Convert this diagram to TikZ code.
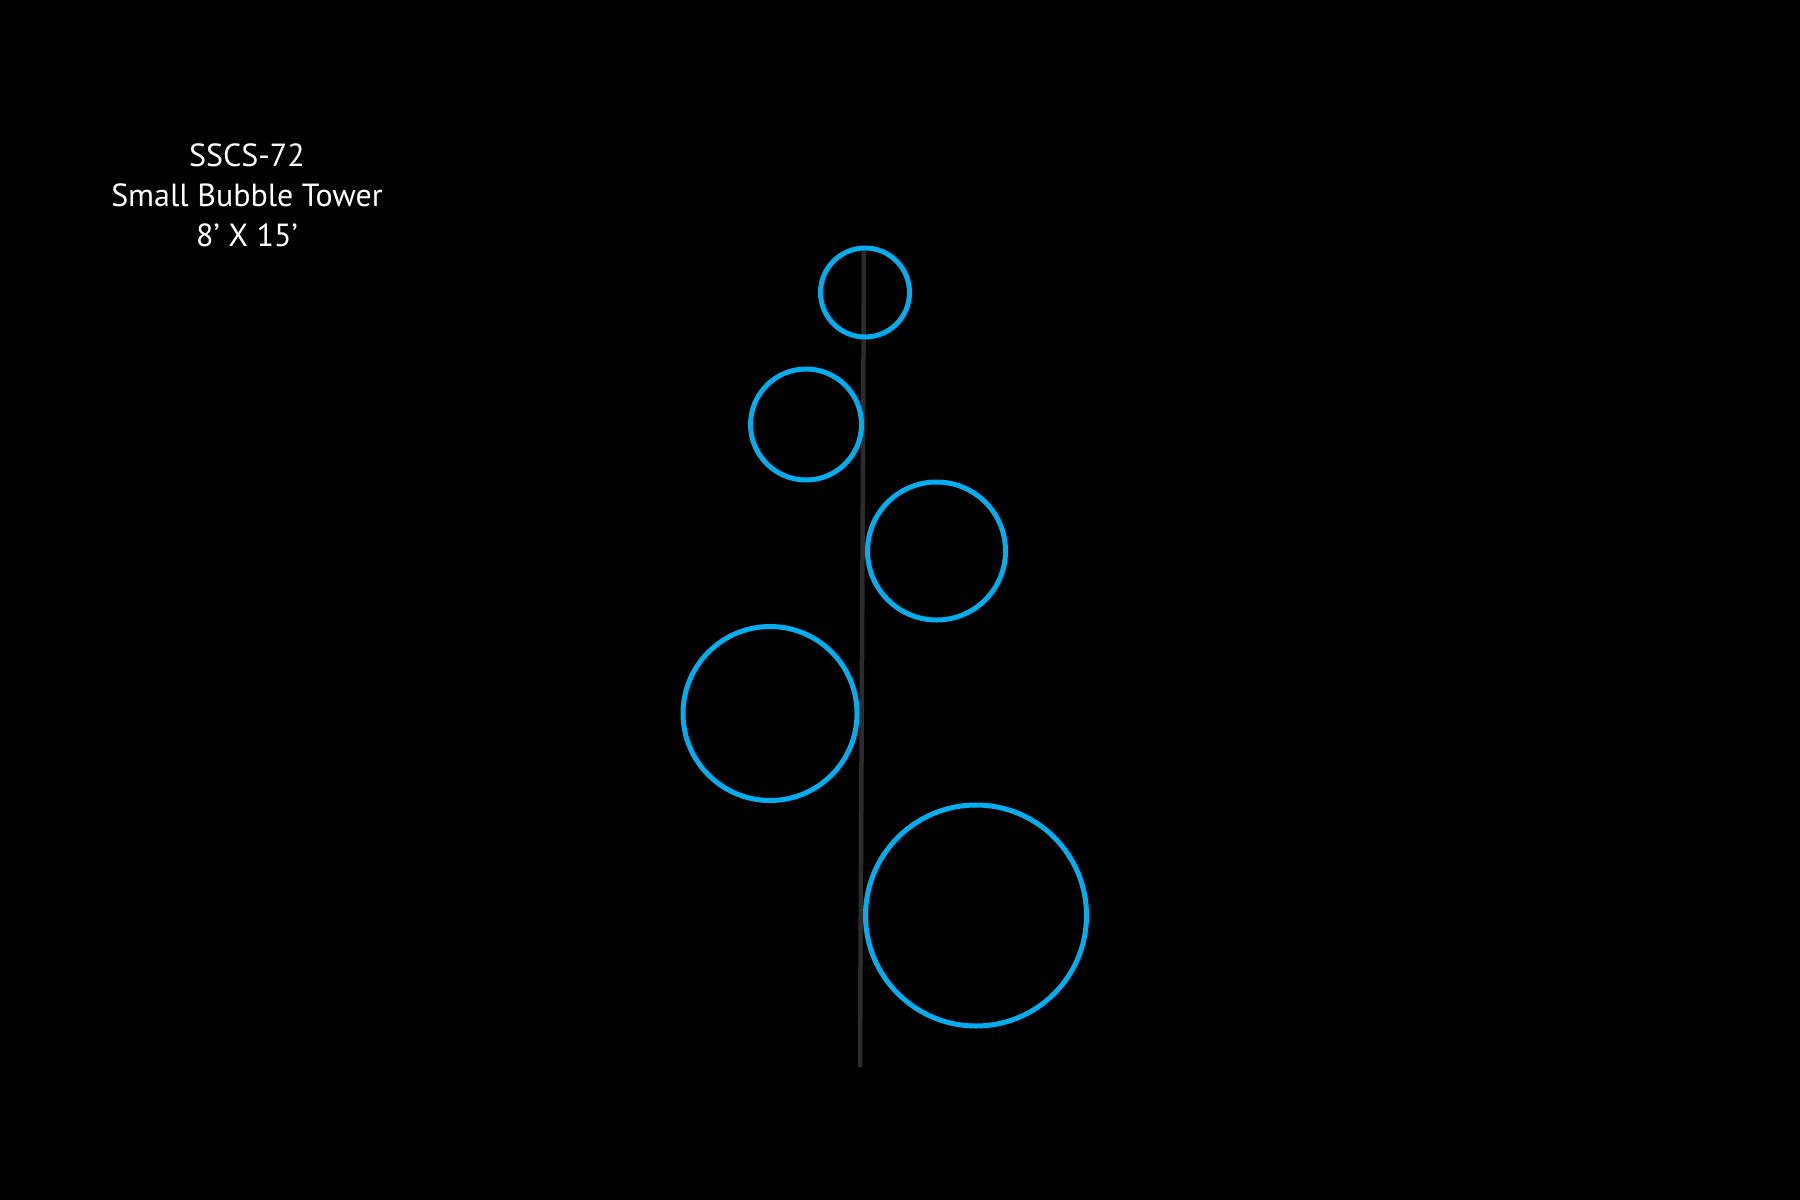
\documentclass[tikz,border=0pt]{standalone}
\usepackage{fontspec}
\setmainfont{PT Sans}
\definecolor{bubble}{RGB}{0,174,239}
\definecolor{pole}{RGB}{44,44,44}
\begin{document}
\begin{tikzpicture}[x=1pt,y=-1pt,
  bubblestyle/.style={circle,draw=bubble,line width=5pt,inner sep=0pt},
  polestyle/.style={draw=pole,line width=4.5pt},
  titlestyle/.style={text=white,font=\fontsize{32}{40}\selectfont,align=center}]
\fill[black] (0,0) rectangle (1800,1200);
\useasboundingbox (0,0) rectangle (1800,1200);
\coordinate (top) at (864,251);
\coordinate (bottom) at (860,1067);
\draw[polestyle] (top) -- (bottom);
\node[bubblestyle,minimum size=89pt] (b1) at (865,292.5) {};
\node[bubblestyle,minimum size=111pt] (b2) at (806,424.5) {};
\node[bubblestyle,minimum size=138pt] (b3) at (936.5,551) {};
\node[bubblestyle,minimum size=174pt] (b4) at (770,713.5) {};
\node[bubblestyle,minimum size=221pt] (b5) at (976,915.5) {};
\node[titlestyle] (title) at (247,195) {SSCS-72\\Small Bubble Tower\\8’ X 15’};
\end{tikzpicture}
\end{document}
